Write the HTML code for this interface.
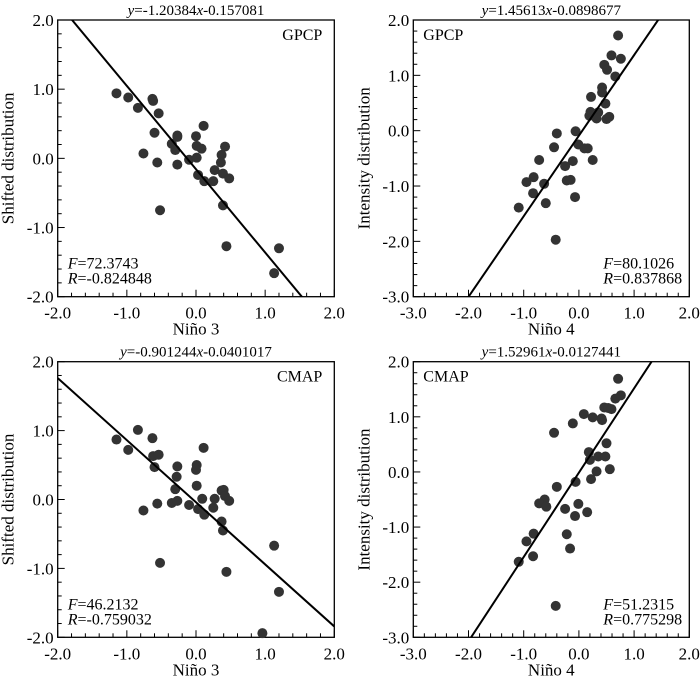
<!DOCTYPE html>
<html><head><meta charset="utf-8"><style>
html,body{margin:0;padding:0;background:#fff;overflow:hidden;}
svg{display:block;font-family:"Liberation Serif",serif;}
</style></head><body>
<svg id="chart" width="700" height="682" viewBox="0 0 700 682"></svg>
<script>
// ---- data ----
const tlX = [-1.15,-0.98,-0.84,-0.63,-0.62,-0.54,-0.60,-0.76,-0.56,-0.52,-0.35,-0.27,-0.27,-0.30,-0.27,-0.10,0.00,0.01,0.01,0.08,0.11,0.03,0.12,0.25,0.27,0.37,0.36,0.42,0.39,0.48,0.39,0.44,1.13,1.20];
const tlY = [0.94,0.88,0.73,0.86,0.83,0.65,0.37,0.07,-0.06,-0.75,0.21,0.31,0.33,0.12,-0.09,-0.02,0.32,0.01,0.18,0.14,0.47,-0.24,-0.33,-0.33,-0.17,0.05,-0.06,0.17,-0.22,-0.29,-0.68,-1.27,-1.66,-1.30];
const trX = [0.71,0.59,0.76,0.46,0.51,0.66,0.42,0.42,0.22,0.48,0.21,0.19,0.35,0.32,0.50,0.55,-0.06,-0.40,-0.45,-0.01,0.10,0.16,0.25,-0.72,-0.25,-0.11,-0.82,-0.95,-0.63,-0.22,-0.15,-0.83,-0.07,-0.60,-1.09,-0.42];
const trY = [1.72,1.36,1.30,1.19,1.10,0.98,0.78,0.69,0.61,0.49,0.34,0.27,0.33,0.22,0.21,0.25,-0.01,-0.05,-0.30,-0.25,-0.32,-0.32,-0.53,-0.53,-0.64,-0.55,-0.84,-0.93,-0.96,-0.90,-0.89,-1.13,-1.20,-1.31,-1.39,-1.97];
const blX = [-1.15,-0.98,-0.84,-0.63,-0.62,-0.54,-0.60,-0.76,-0.56,-0.52,-0.35,-0.27,-0.27,-0.28,-0.30,-0.10,0.01,0.00,0.01,0.03,0.11,0.09,0.12,0.25,0.27,0.37,0.40,0.42,0.48,0.37,0.39,0.44,1.13,1.20,0.96];
const blY = [0.87,0.72,1.01,0.89,0.63,0.65,0.47,-0.16,-0.06,-0.92,-0.05,-0.02,0.48,0.33,0.15,-0.08,0.50,0.43,0.20,-0.14,0.75,0.01,-0.22,-0.12,0.01,0.13,0.14,0.05,-0.02,-0.32,-0.45,-1.05,-0.67,-1.34,-1.94];
const brX = [0.71,0.66,0.76,0.46,0.53,0.59,0.41,0.42,0.25,0.09,-0.11,-0.45,0.50,0.18,0.20,0.35,0.48,0.32,0.56,0.22,-0.06,-0.40,-0.62,-0.72,-0.59,-0.25,-0.01,-0.07,0.15,-0.82,-0.95,-0.22,-0.16,-0.83,-1.09,-0.42];
const brY = [1.69,1.33,1.39,1.17,1.16,1.14,0.97,0.94,0.99,1.05,0.88,0.71,0.52,0.36,0.22,0.28,0.28,0.01,0.05,-0.13,-0.18,-0.27,-0.50,-0.57,-0.63,-0.67,-0.58,-0.80,-0.73,-1.12,-1.26,-1.13,-1.39,-1.53,-1.63,-2.43];
const slopes = [-1.20384, 1.45613, -0.901244, 1.52961];
const intercepts = [-0.157081, -0.0898677, -0.0401017, -0.0127441];
const titles = ["-1.20384","1.45613","-0.901244","1.52961"];
const titleB = ["-0.157081","-0.0898677","-0.0401017","-0.0127441"];
const fVals = ["72.3743","80.1026","46.2132","51.2315"];
const rVals = ["-0.824848","0.837868","-0.759032","0.775298"];
const xLabels = ["Niño 3","Niño 4","Niño 3","Niño 4"];
const yLabels = ["Shifted distribution","Intensity distribution","Shifted distribution","Intensity distribution"];
const datasets = ["GPCP","GPCP","CMAP","CMAP"];

const NS="http://www.w3.org/2000/svg";
const svg=document.getElementById('chart');
function mk(tag,attrs,parent){const e=document.createElementNS(NS,tag);for(const k in attrs)e.setAttribute(k,attrs[k]);(parent||svg).appendChild(e);return e;}

const panels=[
 {xs:tlX,ys:tlY,x0:57.7,x1:334.3,y0:20,y1:296.7,xmin:-2,xmax:2,ymin:-2,ymax:2,labelLeft:false,statsLeft:true},
 {xs:trX,ys:trY,x0:413.3,x1:689.3,y0:20,y1:296.7,xmin:-3,xmax:2,ymin:-3,ymax:2,labelLeft:true,statsLeft:false},
 {xs:blX,ys:blY,x0:57.7,x1:334.3,y0:361.7,y1:637.3,xmin:-2,xmax:2,ymin:-2,ymax:2,labelLeft:false,statsLeft:true},
 {xs:brX,ys:brY,x0:413.3,x1:689.3,y0:361.7,y1:637.3,xmin:-3,xmax:2,ymin:-3,ymax:2,labelLeft:true,statsLeft:false}
];
const ids=["tl","tr","bl","br"];

panels.forEach((p,i)=>{
 const g=mk('g',{});
 
 
 const sx=v=>p.x0+(v-p.xmin)/(p.xmax-p.xmin)*(p.x1-p.x0);
 const sy=v=>p.y1-(v-p.ymin)/(p.ymax-p.ymin)*(p.y1-p.y0);
 const cx=(p.x0+p.x1)/2, cy=(p.y0+p.y1)/2;
 const cp=mk('clipPath',{id:'clip'+i},g);
 mk('rect',{x:p.x0,y:p.y0,width:p.x1-p.x0,height:p.y1-p.y0},cp);
 const fr=mk('rect',{x:p.x0,y:p.y0,width:p.x1-p.x0,height:p.y1-p.y0,fill:'none',stroke:'#000','stroke-width':1.3},g);
 
 
 const nx=Math.round((p.xmax-p.xmin)/0.2);
 for(let k=0;k<=nx;k++){const v=p.xmin+k*0.2;const major=k%5===0;const X=sx(v);
  mk('line',{x1:X,x2:X,y1:p.y1,y2:p.y1-(major?7:4),stroke:'#000','stroke-width':1},g);
  if(major){const t=mk('text',{x:X,y:p.y1+22,'text-anchor':'middle','font-size':17},g);t.textContent=v.toFixed(1);
   
   }
 }
 const ny=Math.round((p.ymax-p.ymin)/0.2);
 for(let k=0;k<=ny;k++){const v=p.ymin+k*0.2;const major=k%5===0;const Y=sy(v);
  mk('line',{x1:p.x0,x2:p.x0+(major?7:4),y1:Y,y2:Y,stroke:'#000','stroke-width':1},g);
  if(major){const t=mk('text',{x:p.x0-4,y:Y+6,'text-anchor':'end','font-size':17},g);t.textContent=v.toFixed(1);
   
   }
 }
 p.xs.forEach((xv,j)=>{const c=mk('circle',{cx:sx(xv),cy:sy(p.ys[j]),r:5,fill:'#333'},g);
  
  });
 const L=mk('line',{x1:sx(p.xmin),y1:sy(slopes[i]*p.xmin+intercepts[i]),x2:sx(p.xmax),y2:sy(slopes[i]*p.xmax+intercepts[i]),stroke:'#000','stroke-width':2,'clip-path':'url(#clip'+i+')'},g);
 
 
 const t=mk('text',{x:cx,y:p.y0-5,'text-anchor':'middle','font-size':15},g);
 t.innerHTML='<tspan font-style="italic">y</tspan>='+titles[i]+'<tspan font-style="italic">x</tspan>'+titleB[i];
 
 
 const d=mk('text',{x:p.labelLeft?p.x0+10:p.x1-12,y:p.y0+20,'text-anchor':p.labelLeft?'start':'end','font-size':16},g);
 d.textContent=datasets[i];
 
 
 const sxp=p.statsLeft?p.x0+10:p.x0+190;
 const f=mk('text',{x:sxp,y:p.y1-28,'font-size':16},g);
 f.innerHTML='<tspan font-style="italic">F</tspan>='+fVals[i];
 
 
 const r=mk('text',{x:sxp,y:p.y1-13,'font-size':16},g);
 r.innerHTML='<tspan font-style="italic">R</tspan>='+rVals[i];
 
 
 const xl=mk('text',{x:cx,y:p.y1+38,'text-anchor':'middle','font-size':17},g);
 xl.textContent=xLabels[i];
 
 
 const yx=p.x0-44;
 const yl=mk('text',{x:yx,y:cy,'text-anchor':'middle','font-size':17,transform:'rotate(-90 '+yx+' '+cy+')'},g);
 yl.textContent=yLabels[i];
 
 
});
</script>
</body></html>
